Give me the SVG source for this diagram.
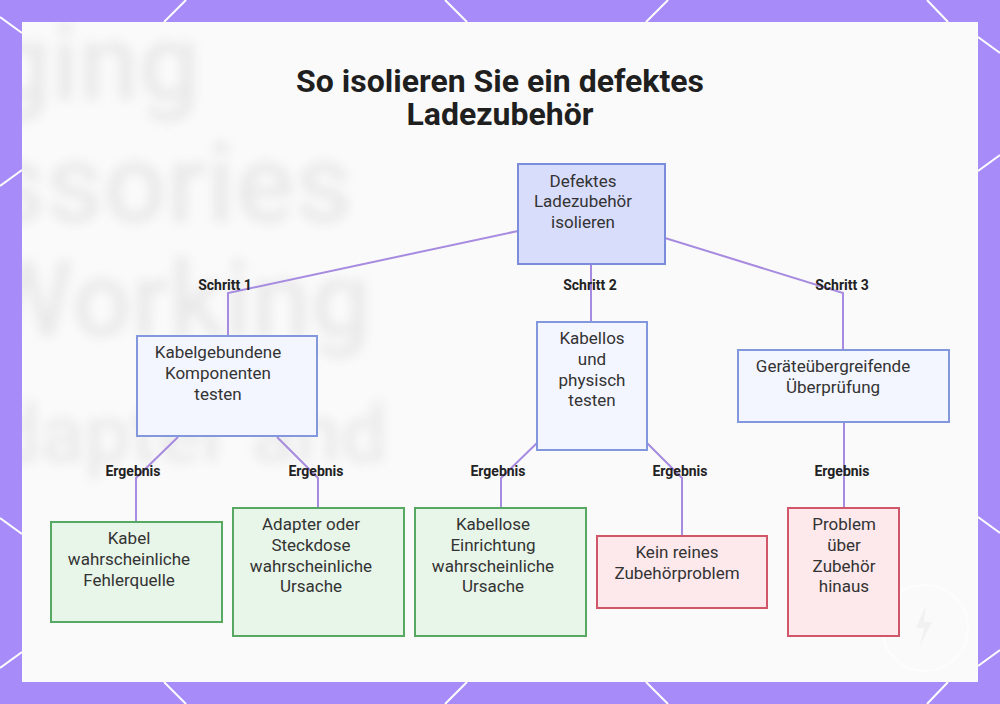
<svg xmlns="http://www.w3.org/2000/svg" width="1000" height="704" viewBox="0 0 1000 704">
<defs>
<style>
.bgl{stroke:#ffffff;stroke-width:2;fill:none}
.ttl{font-family:Roboto,"Liberation Sans",sans-serif;font-weight:700;font-size:32px;fill:#1f1f1f;text-anchor:middle}
.nt{font-family:Roboto,"Liberation Sans",sans-serif;font-size:17px;fill:#333333;text-anchor:middle}
.lb{font-family:Roboto,"Liberation Sans",sans-serif;font-weight:700;font-size:14px;fill:#222222;text-anchor:middle}
.root{fill:#d9ddfc;stroke:#7b8cdb;stroke-width:2}
.mid{fill:#f4f6ff;stroke:#8397dd;stroke-width:2}
.ok{fill:#e8f5e9;stroke:#57a862;stroke-width:2}
.bad{fill:#fde8eb;stroke:#d0566a;stroke-width:2}
.cn{stroke:#a78be0;stroke-width:2;fill:none}
.ghost{font-family:Roboto,"Liberation Sans",sans-serif;font-weight:500;fill:#e6e6e6}
</style>
<filter id="blur" x="-10%" y="-10%" width="120%" height="120%"><feGaussianBlur stdDeviation="6"/></filter>
<clipPath id="panelClip"><rect x="22" y="22" width="956" height="660"/></clipPath>
</defs>
<rect x="0" y="0" width="1000" height="704" fill="#a78bf8"/>
<g id="border-lines">
<line class="bgl" x1="186" y1="0" x2="164" y2="22"/>
<line class="bgl" x1="445" y1="0" x2="467" y2="22"/>
<line class="bgl" x1="668" y1="0" x2="646" y2="22"/>
<line class="bgl" x1="927" y1="0" x2="948" y2="22"/>
<line class="bgl" x1="164" y1="682" x2="186" y2="704"/>
<line class="bgl" x1="467" y1="682" x2="445" y2="704"/>
<line class="bgl" x1="646" y1="682" x2="668" y2="704"/>
<line class="bgl" x1="948" y1="682" x2="927" y2="704"/>
<line class="bgl" x1="0" y1="17" x2="22" y2="33"/>
<line class="bgl" x1="22" y1="170" x2="0" y2="186"/>
<line class="bgl" x1="0" y1="518" x2="22" y2="534"/>
<line class="bgl" x1="22" y1="652" x2="0" y2="668"/>
<line class="bgl" x1="978" y1="37" x2="1000" y2="53"/>
<line class="bgl" x1="1000" y1="155" x2="978" y2="171"/>
<line class="bgl" x1="978" y1="517" x2="1000" y2="533"/>
<line class="bgl" x1="1000" y1="650" x2="978" y2="666"/>
</g>
<rect x="22" y="22" width="956" height="660" fill="#fafafa"/>
<g id="ghost" clip-path="url(#panelClip)">
<g filter="url(#blur)" opacity="0.85">
<text class="ghost" x="-10" y="100" font-size="108">ging</text>
<text class="ghost" x="-12" y="222" font-size="112">ssories</text>
<text class="ghost" x="-20" y="336" font-size="106">Working</text>
<text class="ghost" x="-6" y="462" font-size="82">dapter and</text>
</g>
</g>
<g id="watermark" opacity="0.7">
<circle cx="925" cy="628" r="43" fill="none" stroke="#ffffff" stroke-width="1.5"/>
<path d="M926 605 L916 628 L924 628 L920 646 L932 622 L924 622 Z" fill="#eeeeee"/>
</g>
<g id="title">
<text class="ttl" x="500" y="92">So isolieren Sie ein defektes</text>
<text class="ttl" x="500" y="125">Ladezubehör</text>
</g>
<g id="connectors">
<polyline class="cn" points="518,231 228,293 228,336"/>
<line class="cn" x1="591" y1="264" x2="591" y2="322"/>
<polyline class="cn" points="665,238 843,293 843,350"/>
<polyline class="cn" points="178,437 136,478 136,522"/>
<polyline class="cn" points="277,437 318,478 318,508"/>
<polyline class="cn" points="537,443 501,478 501,508"/>
<polyline class="cn" points="647,443 682,478 682,536"/>
<line class="cn" x1="844" y1="422" x2="844" y2="508"/>
<text class="lb" x="225" y="290">Schritt 1</text>
<text class="lb" x="590" y="290">Schritt 2</text>
<text class="lb" x="842" y="290">Schritt 3</text>
<text class="lb" x="133" y="476">Ergebnis</text>
<text class="lb" x="316" y="476">Ergebnis</text>
<text class="lb" x="498" y="476">Ergebnis</text>
<text class="lb" x="680" y="476">Ergebnis</text>
<text class="lb" x="842" y="476">Ergebnis</text>
</g>
<g id="n-root">
<rect class="root" x="518" y="164" width="147" height="100"/>
<text class="nt" x="583" y="187">Defektes</text>
<text class="nt" x="583" y="207">Ladezubehör</text>
<text class="nt" x="583" y="228">isolieren</text>
</g>
<g id="n-kabelgebunden">
<rect class="mid" x="137" y="336" width="180" height="100"/>
<text class="nt" x="218" y="358">Kabelgebundene</text>
<text class="nt" x="218" y="379">Komponenten</text>
<text class="nt" x="218" y="400">testen</text>
</g>
<g id="n-kabellos">
<rect class="mid" x="537" y="322" width="110" height="128"/>
<text class="nt" x="592" y="344">Kabellos</text>
<text class="nt" x="592" y="365">und</text>
<text class="nt" x="592" y="386">physisch</text>
<text class="nt" x="592" y="406">testen</text>
</g>
<g id="n-geraete">
<rect class="mid" x="738" y="350" width="211" height="72"/>
<text class="nt" x="833" y="372">Geräteübergreifende</text>
<text class="nt" x="833" y="393">Überprüfung</text>
</g>
<g id="n-kabel">
<rect class="ok" x="51" y="522" width="171" height="100"/>
<text class="nt" x="129" y="544">Kabel</text>
<text class="nt" x="129" y="565">wahrscheinliche</text>
<text class="nt" x="129" y="586">Fehlerquelle</text>
</g>
<g id="n-adapter">
<rect class="ok" x="233" y="508" width="171" height="128"/>
<text class="nt" x="311" y="530">Adapter oder</text>
<text class="nt" x="311" y="551">Steckdose</text>
<text class="nt" x="311" y="572">wahrscheinliche</text>
<text class="nt" x="311" y="592">Ursache</text>
</g>
<g id="n-kabellose">
<rect class="ok" x="415" y="508" width="171" height="128"/>
<text class="nt" x="493" y="530">Kabellose</text>
<text class="nt" x="493" y="551">Einrichtung</text>
<text class="nt" x="493" y="572">wahrscheinliche</text>
<text class="nt" x="493" y="592">Ursache</text>
</g>
<g id="n-kein">
<rect class="bad" x="597" y="536" width="170" height="72"/>
<text class="nt" x="677" y="558">Kein reines</text>
<text class="nt" x="677" y="579">Zubehörproblem</text>
</g>
<g id="n-problem">
<rect class="bad" x="788" y="508" width="111" height="128"/>
<text class="nt" x="844" y="530">Problem</text>
<text class="nt" x="844" y="551">über</text>
<text class="nt" x="844" y="572">Zubehör</text>
<text class="nt" x="844" y="592">hinaus</text>
</g>
</svg>
